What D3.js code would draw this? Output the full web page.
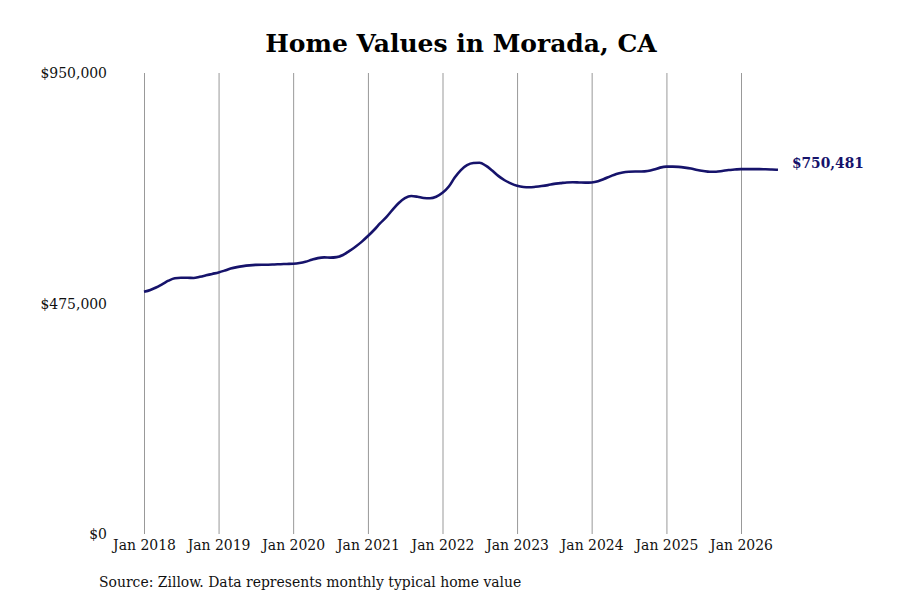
<!DOCTYPE html>
<html>
<head>
<meta charset="utf-8">
<script src="https://cdn.jsdelivr.net/npm/d3@7"></script>
<style>
  body { margin: 0; background: #fff; }
  text { font-family: "DejaVu Serif Condensed", "DejaVu Serif", serif; font-stretch: condensed; }
</style>
</head>
<body>
<script>
// monthly typical home value, Jan 2018 .. Jul 2026
var startMonth = "2018-01";
var values = [
  499000, 503000, 508000, 515000, 522000, 527000, 528000, 528000, 527500, 530000, 533000, 536000,
  539000, 543000, 547000, 550000, 552000, 553500, 554500, 555000, 555000, 555500, 556000, 556500,
  557000, 558500, 561000, 565000, 568500, 570000, 569500, 570500, 575000, 583000, 592000, 602000,
  614000, 627000, 640000, 653000, 668000, 682000, 692000, 696500, 695000, 692500, 692000, 695000,
  703000, 716000, 734000, 750000, 760000, 764500, 765000, 759000, 749000, 738000, 729000, 722500,
  717500, 715000, 714500, 715500, 717000, 719000, 721500, 723000, 724500, 725000, 724500, 724000,
  724500, 727000, 731500, 737000, 742000, 745000, 746500, 747000, 747000, 748000, 751000, 755000,
  757000, 757000, 756500, 755000, 753000, 750000, 748000, 746500, 746500, 748000, 750000, 751000,
  752000, 752000, 752000, 752000, 751500, 751000, 750481
];
var yTicks = [0, 475000, 950000];
var xTickYears = [2018, 2019, 2020, 2021, 2022, 2023, 2024, 2025, 2026];
var title = "Home Values in Morada, CA";
var source = "Source: Zillow. Data represents monthly typical home value";

var W = 900, H = 600;
var margin = {top: 73, right: 122, bottom: 66, left: 144};

var parse = d3.timeParse("%Y-%m");
var t0 = parse(startMonth);
var data = values.map(function(v, i) {
  return {date: d3.timeMonth.offset(t0, i), value: v};
});

var svg = d3.select("body").append("svg").attr("width", W).attr("height", H);

var x = d3.scaleTime()
  .domain([new Date(2018, 0, 1), new Date(2026, 0, 1)])
  .range([margin.left, 741]);
var y = d3.scaleLinear()
  .domain([0, 950000])
  .range([H - margin.bottom, margin.top]);

svg.append("text")
  .attr("x", 461).attr("y", 52)
  .attr("text-anchor", "middle")
  .attr("font-size", 25).attr("font-weight", "bold")
  .style("font-stretch", "normal")
  .style("font-family", "'DejaVu Serif', serif")
  .text(title);

// x axis with vertical grid
var xAxis = svg.append("g")
  .attr("transform", "translate(0," + margin.top + ")")
  .call(d3.axisBottom(x)
    .tickValues(xTickYears.map(function(yr) { return new Date(yr, 0, 1); }))
    .tickSize(y(0) - margin.top)
    .tickPadding(5)
    .tickFormat(d3.timeFormat("Jan %Y")));
xAxis.select(".domain").remove();
xAxis.selectAll(".tick line").attr("stroke", "#999").attr("stroke-width", 1);
xAxis.selectAll(".tick text").attr("font-size", 15.5).attr("fill", "#111")
  .style("font-family", null);

var yAxis = svg.append("g")
  .attr("transform", "translate(107,0)")
  .call(d3.axisLeft(y).tickValues(yTicks).tickSize(0).tickPadding(0)
    .tickFormat(function(d) { return "$" + d3.format(",")(d); }));
yAxis.select(".domain").remove();
yAxis.selectAll(".tick text").attr("font-size", 15.5).attr("fill", "#111")
  .style("font-family", null);

var line = d3.line()
  .x(function(d) { return x(d.date); })
  .y(function(d) { return y(d.value); })
  .curve(d3.curveMonotoneX);

svg.append("path")
  .datum(data)
  .attr("fill", "none")
  .attr("stroke", "#16136b")
  .attr("stroke-width", 2.6)
  .attr("d", line);

var last = data[data.length - 1];
svg.append("text")
  .attr("x", x(last.date) + 14)
  .attr("y", y(last.value) - 7)
  .attr("dy", "0.35em")
  .attr("font-size", 15.3).attr("font-weight", "bold")
  .attr("fill", "#16136b")
  .text("$" + d3.format(",")(last.value));

svg.append("text")
  .attr("x", 99).attr("y", 587)
  .attr("font-size", 15.5).attr("fill", "#111")
  .text(source);
</script>
</body>
</html>
